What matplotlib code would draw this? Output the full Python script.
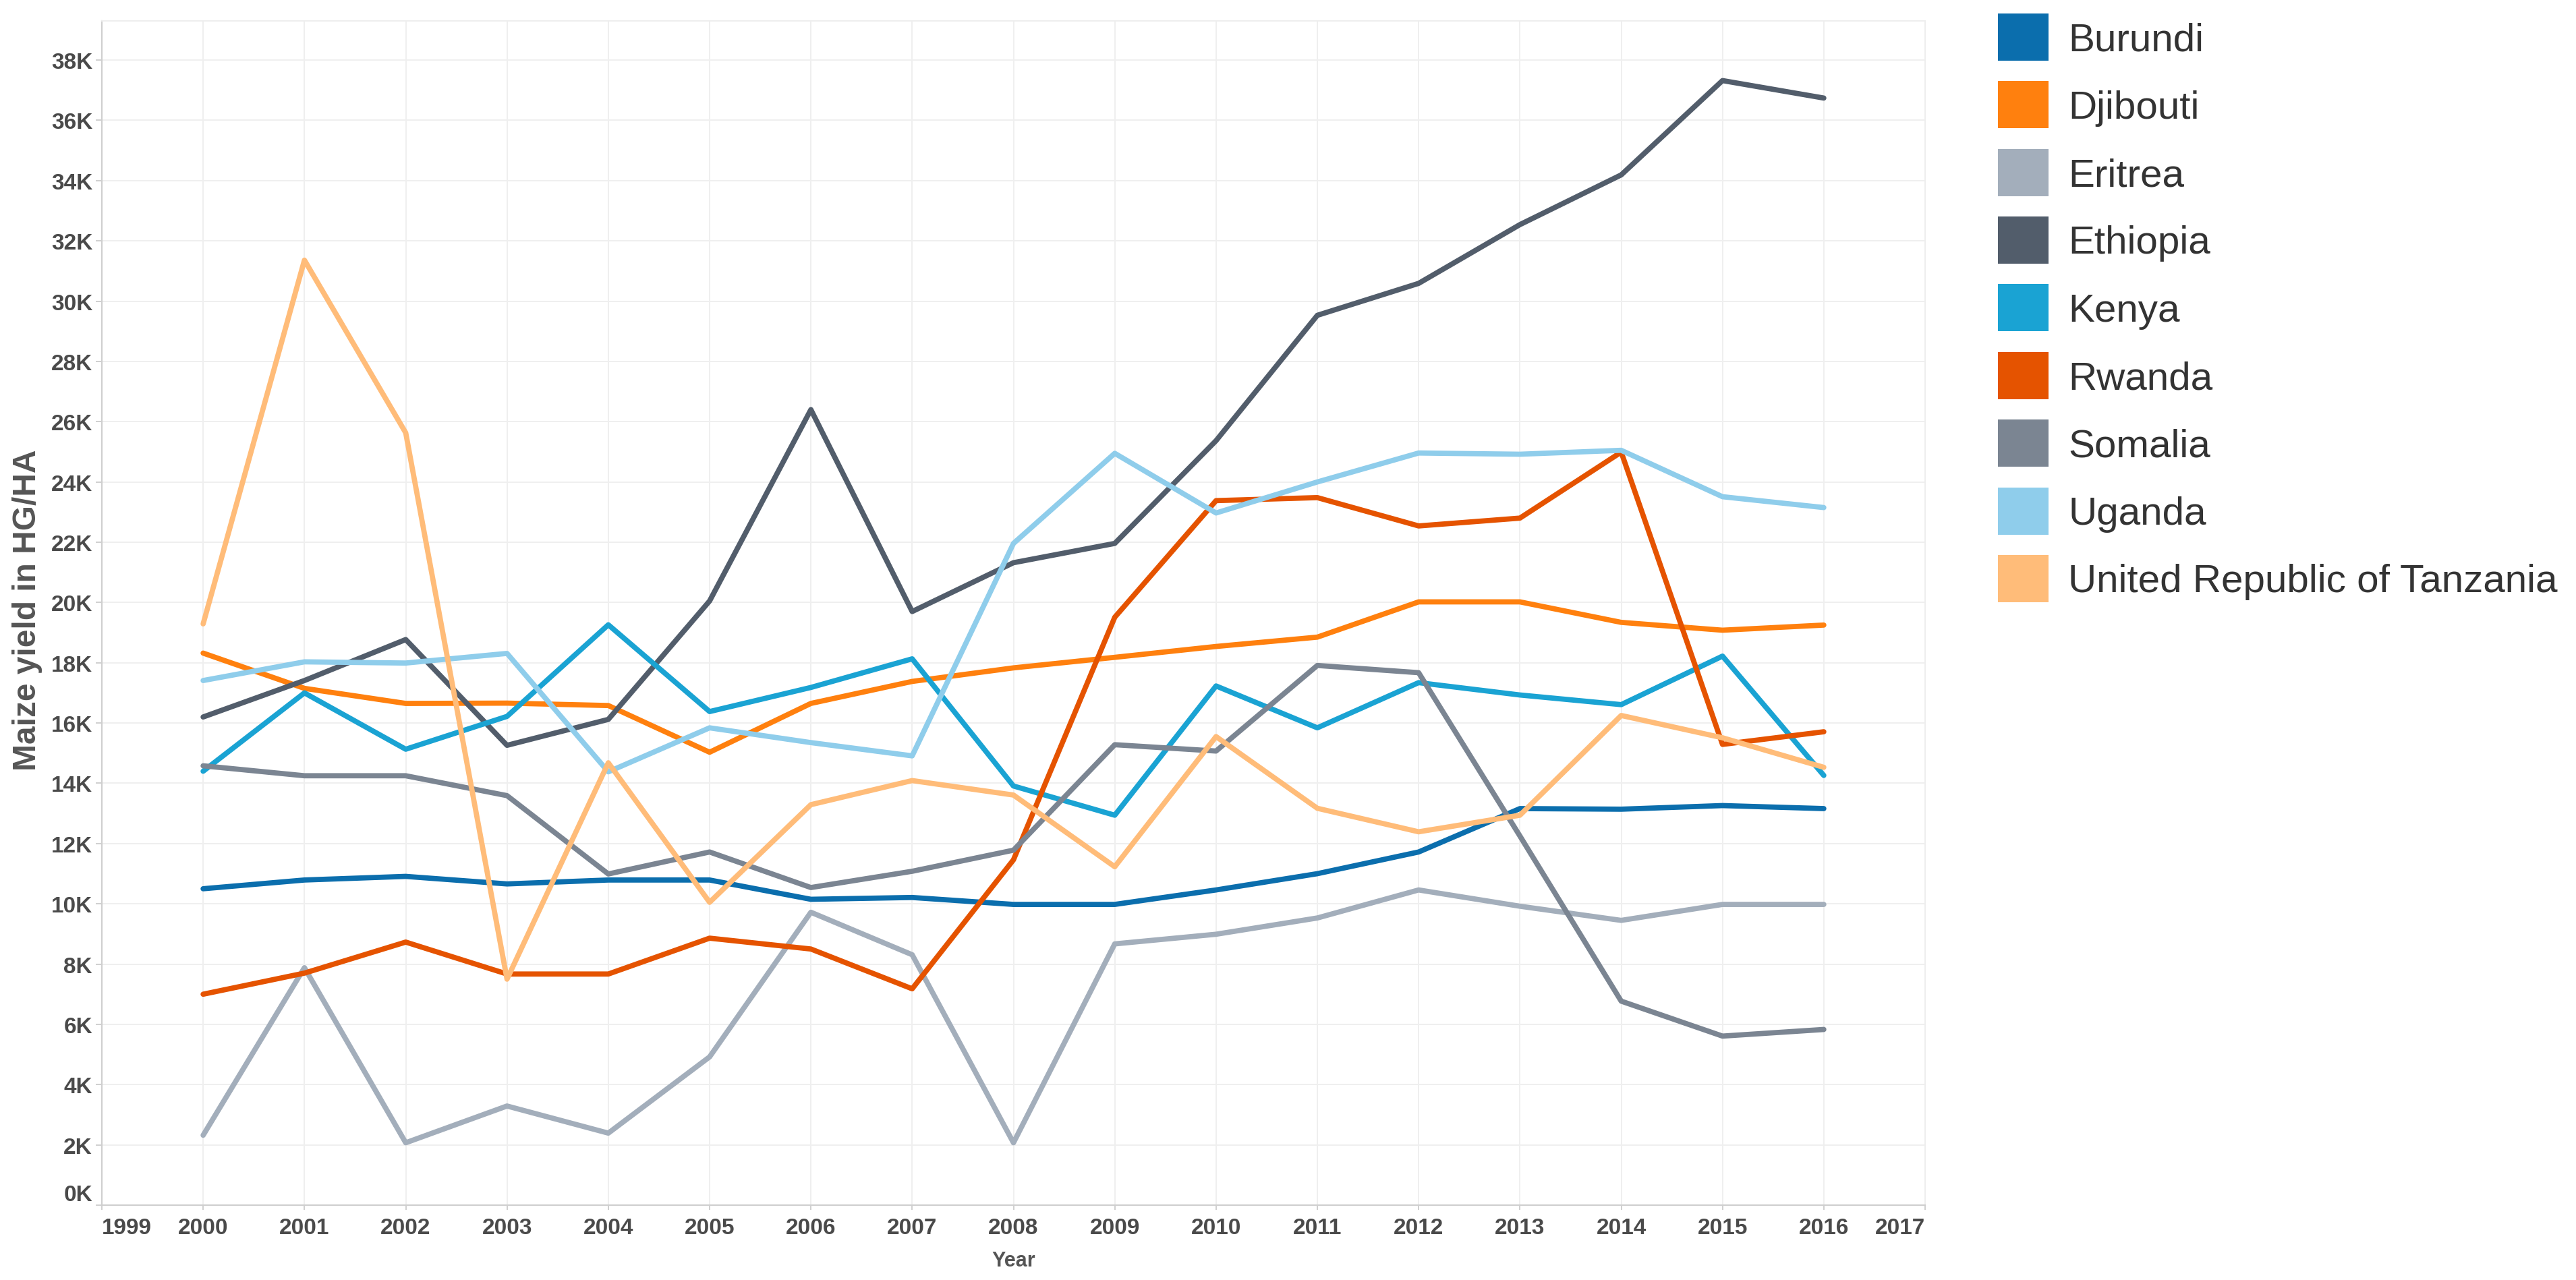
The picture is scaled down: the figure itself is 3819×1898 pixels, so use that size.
import numpy as np
import matplotlib
matplotlib.use("Agg")
import matplotlib.pyplot as plt
from matplotlib.patches import Patch
from matplotlib.ticker import FuncFormatter

plt.rcParams['font.family'] = ['Liberation Sans', 'DejaVu Sans']

# Maize yield (hg/ha)
years = list(range(2000, 2017))

burundi = [10500, 10790, 10910, 10660, 10790, 10790, 10150, 10210, 9980, 9980,
           10460, 11000, 11720, 13160, 13140, 13260, 13160]
djibouti = [18320, 17150, 16650, 16660, 16580, 15030, 16650, 17380, 17830, 18180,
            18540, 18850, 20020, 20020, 19340, 19080, 19250]
eritrea = [2320, 7880, 2070, 3290, 2390, 4920, 9720, 8310, 2070, 8670,
           8990, 9530, 10460, 9920, 9450, 9980, 9980]
ethiopia = [16200, 17410, 18770, 15260, 16120, 20050, 26400, 19700, 21320, 21960,
            25370, 29530, 30590, 32540, 34190, 37320, 36740]
kenya = [14400, 17000, 15130, 16220, 19260, 16380, 17180, 18130, 13910, 12940,
         17230, 15840, 17340, 16930, 16610, 18220, 14260]
rwanda = [7000, 7700, 8730, 7670, 7670, 8860, 8500, 7180, 11460, 19510,
          23380, 23480, 22540, 22800, 24990, 15290, 15710]
somalia = [14580, 14250, 14250, 13590, 10990, 11720, 10540, 11080, 11780, 15280,
           15070, 17910, 17670, 12250, 6770, 5610, 5830]
uganda = [17410, 18030, 17990, 18310, 14380, 15840, 15350, 14910, 21960, 24950,
          22970, 24000, 24960, 24920, 25050, 23510, 23150]
tanzania = [19290, 31360, 25630, 7500, 14680, 10050, 13290, 14090, 13610, 11230,
            15550, 13170, 12390, 12940, 16250, 15510, 14530]

countries = ['Burundi', 'Djibouti', 'Eritrea', 'Ethiopia', 'Kenya', 'Rwanda',
             'Somalia', 'Uganda', 'United Republic of Tanzania']
series = [burundi, djibouti, eritrea, ethiopia, kenya, rwanda, somalia, uganda, tanzania]
colors = ['#0B6EAD', '#FF800E', '#A3AEBB', '#525D6B', '#1AA3D3', '#E55300',
          '#7B8592', '#8FCDEB', '#FFBC79']

fig = plt.figure(figsize=(38.19, 18.99), dpi=100)
ax = fig.add_axes([151 / 3819, 1 - 1788 / 1899, (2854 - 151) / 3819, (1788 - 32) / 1899])

for name, vals, c in zip(countries, series, colors):
    ax.plot(years, vals, color=c, lw=5.6, solid_capstyle='round',
            solid_joinstyle='round', label=name, zorder=3)

ax.set_xlim(1999, 2017)
ax.set_ylim(0, 39300)
ax.set_xticks(range(1999, 2018))
ax.set_yticks(range(0, 38001, 2000))
ax.yaxis.set_major_formatter(FuncFormatter(lambda v, p: f'{v / 1000:.0f}K'))

ax.grid(True, color='#EFEFEF', lw=1.4, zorder=0)
ax.set_axisbelow(True)
for side in ['top', 'right']:
    ax.spines[side].set_color('#EEEEEE')
    ax.spines[side].set_linewidth(1.4)
for side in ['left', 'bottom']:
    ax.spines[side].set_color('#CFCFCF')
    ax.spines[side].set_linewidth(1.6)

ax.tick_params(axis='y', length=6.5, width=1.4, color='#CFCFCF', pad=3.5,
               labelsize=24, labelcolor='#4A4A4A')
ax.tick_params(axis='x', length=5, width=1.4, color='#CFCFCF', pad=8,
               labelsize=24, labelcolor='#4A4A4A')
for lab in ax.get_xticklabels() + ax.get_yticklabels():
    lab.set_fontweight('bold')

# keep end labels inside the axis, as in the original
xt = ax.get_xticklabels()
xt[0].set_ha('left')
xt[-1].set_ha('right')
ax.get_yticklabels()[0].set_va('bottom')

ax.set_xlabel('Year', fontsize=22, fontweight='bold', color='#555555')
ax.xaxis.set_label_coords(0.5, -0.038)
ax.set_ylabel('Maize yield in HG/HA', fontsize=34.5, fontweight='bold', color='#555555')
ax.yaxis.set_label_coords(-0.0326, 0.503)

handles = [Patch(facecolor=c, edgecolor='none', label=n) for n, c in zip(countries, colors)]
fig.legend(handles=handles, loc='upper left', bbox_to_anchor=(2962 / 3819, 1 - 21 / 1899),
           frameon=False, fontsize=42, handlelength=1.29, handleheight=1.47,
           handletextpad=0.5, labelspacing=0.52, borderpad=0, borderaxespad=0,
           labelcolor='#333333')

fig.savefig('out.png', dpi=100, facecolor='white')
